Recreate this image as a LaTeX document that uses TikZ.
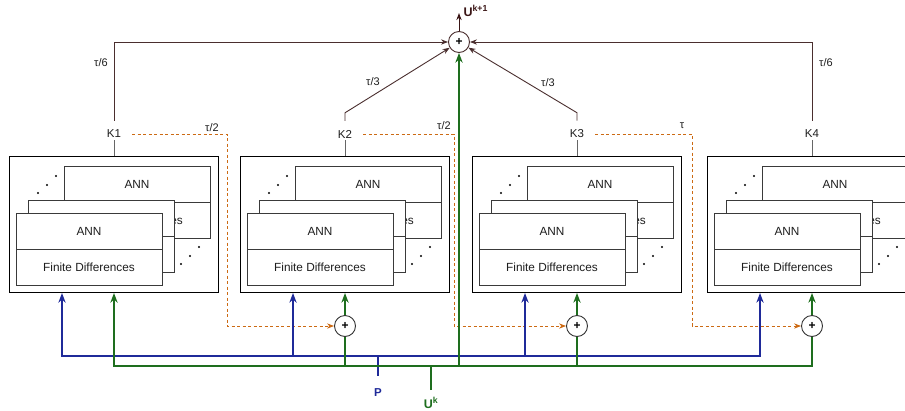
\documentclass[tikz,border=0pt]{standalone}
\usepackage{fontspec}
\setmainfont{Liberation Sans}
\usetikzlibrary{arrows.meta}
\definecolor{busblue}{HTML}{1F2A99}
\definecolor{busgreen}{HTML}{1E6E1E}
\definecolor{tauorange}{HTML}{CC6A14}
\definecolor{sumbrown}{HTML}{4A2E2E}
\definecolor{darkmaroon}{HTML}{3A1515}
\definecolor{cardgray}{HTML}{3A3A3A}
\definecolor{txtgray}{HTML}{1E1E1E}

\begin{document}
\begin{tikzpicture}[
    x=1pt, y=-1pt,
    >=Stealth,
    font=\fontsize{11}{13}\selectfont,
    text=txtgray,
    stagebox/.style={
        draw=black, fill=white, line width=1pt,
        minimum width=209pt, minimum height=136pt, inner sep=0pt,
    },
    cardpart/.style={
        draw=cardgray, fill=white, line width=0.9pt,
        minimum width=146pt, minimum height=36pt, inner sep=0pt,
        font=\fontsize{11.8}{13}\selectfont,
    },
    klabel/.style={inner sep=2pt, font=\fontsize{11.5}{13}\selectfont},
    sumnode/.style={
        circle, draw=black!80, fill=white, line width=0.9pt,
        minimum size=21pt, inner sep=0pt,
        font=\bfseries\fontsize{12}{12}\selectfont, text=black,
    },
    kline/.style={draw=black!60, line width=1pt},
    toparr/.style={->, draw=sumbrown, line width=0.9pt},
    tauarr/.style={->, draw=tauorange, line width=0.9pt, dash pattern=on 3pt off 2.5pt},
    busline/.style={line width=1.5pt},
    busarr/.style={->, line width=1.5pt},
    dotmark/.style={fill=black},
]
\useasboundingbox (0,0) rectangle (905,410);
\clip (0,0) rectangle (905,410);

% Stages with stacked ANN / Finite Differences cards
\foreach \i/\cx in {1/114,2/345,3/577,4/812} {
    \node[stagebox] (box\i) at (\cx,224.5) {};
    % back card
    \node[cardpart] (backann\i) at ({\cx+23},184) {ANN};
    \node[cardpart] (backfd\i) at ({\cx+23},220) {Finite Differences};
    % middle card
    \node[cardpart] (midann\i) at ({\cx-12.5},218.5) {ANN};
    \node[cardpart] (midfd\i) at ({\cx-12.5},254.5) {Finite Differences};
    % front card
    \node[cardpart] (frontann\i) at ({\cx-25},231) {ANN};
    \node[cardpart] (frontfd\i) at ({\cx-25},267) {Finite Differences};
    % dots
    \fill[dotmark] ({\cx-76},193) circle (1.2pt);
    \fill[dotmark] ({\cx-67},185) circle (1.2pt);
    \fill[dotmark] ({\cx-58},176) circle (1.2pt);
    \fill[dotmark] ({\cx+67},264) circle (1.2pt);
    \fill[dotmark] ({\cx+76},256) circle (1.2pt);
    \fill[dotmark] ({\cx+85},247) circle (1.2pt);
    % stage label
    \node[klabel] (k\i) at (\cx,134) {K\i};
    \draw[kline] (k\i.south) -- (box\i.north);
}

% Summation nodes
\node[sumnode, draw=sumbrown] (sumtop) at (459,42) {+};
\foreach \i/\cx in {2/345,3/577,4/812} {
    \node[sumnode] (sum\i) at (\cx,326) {+};
}

% Weighted sum to the next step
\draw[toparr] ([yshift=7pt]k1.north) |- (sumtop);
\draw[toparr] ([yshift=7pt]k4.north) |- (sumtop);
\draw[toparr] ([yshift=7pt]k2.north) -- ++(0,-8) -- (sumtop);
\draw[toparr] ([yshift=7pt]k3.north) -- ++(0,-8) -- (sumtop);
\draw[toparr, draw=darkmaroon] (sumtop.north) -- ++(0,-18) coordinate (unext);
\node[anchor=west, text=darkmaroon, font=\bfseries\fontsize{12.5}{13}\selectfont] (unextlabel) at ([xshift=1pt, yshift=2pt]unext) {U\textsuperscript{k+1}};
\node at (101,63) {τ/6};
\node at (826,63) {τ/6};
\node at (373,82) {τ/3};
\node at (548,83) {τ/3};

% Intermediate stage inputs
\draw[tauarr] ([xshift=9pt]k1.east) -- (227,134) |- (sum2);
\draw[tauarr] ([xshift=9pt]k2.east) -- (454,134) |- (sum3);
\draw[tauarr] ([xshift=9pt]k3.east) -- (692,134) |- (sum4);
\node at (212,128) {τ/2};
\node at (444,126) {τ/2};
\node at (682,126) {τ};

% Parameter bus
\node[text=busblue, font=\bfseries\fontsize{11.5}{12}\selectfont] (p) at (378,393) {P};
\coordinate (pjoin) at (378,356);
\draw[busline, busblue] ([yshift=10pt]p.north) -- (pjoin);
\foreach \i in {1,2,3,4} {
    \draw[busarr, busblue] (pjoin) -| ([xshift=-52pt]box\i.south);
}

% State bus
\node[text=busgreen, font=\bfseries\fontsize{12.5}{12}\selectfont] (uk) at (431,403) {U\textsuperscript{k}};
\coordinate (ujoin) at (431,366);
\draw[busline, busgreen] ([yshift=4pt]uk.north) -- (ujoin);
\draw[busarr, busgreen] (ujoin) -| (box1.south);
\foreach \i in {2,3,4} {
    \draw[busline, busgreen] (ujoin) -| (sum\i);
    \draw[busarr, busgreen] (sum\i) -- (box\i.south);
}
\draw[busarr, busgreen] (ujoin) -| (sumtop);

\end{tikzpicture}
\end{document}
